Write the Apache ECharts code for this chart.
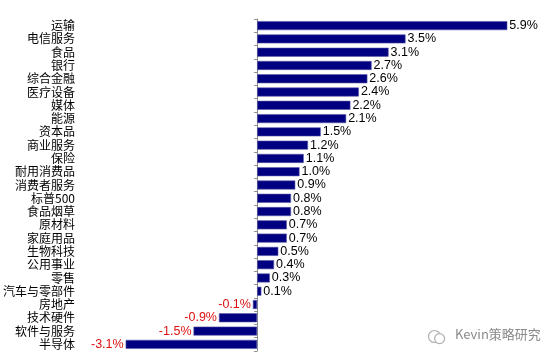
<!DOCTYPE html>
<html>
<head>
<meta charset="utf-8">
<script src="https://cdn.jsdelivr.net/npm/echarts@6/dist/echarts.min.js"></script>
<style>
  html, body { margin: 0; padding: 0; background: #fff; }
  #chart { width: 560px; height: 364px; }
</style>
</head>
<body>
<div id="chart"></div>
<script>
// 行业涨跌幅（%），自上而下
const categories = [
  '运输', '电信服务', '食品', '银行', '综合金融', '医疗设备', '媒体', '能源',
  '资本品', '商业服务', '保险', '耐用消费品', '消费者服务', '标普500', '食品烟草',
  '原材料', '家庭用品', '生物科技', '公用事业', '零售', '汽车与零部件',
  '房地产', '技术硬件', '软件与服务', '半导体'
]
const values = [
  5.9, 3.5, 3.1, 2.7, 2.6, 2.4, 2.2, 2.1,
  1.5, 1.2, 1.1, 1.0, 0.9, 0.8, 0.8,
  0.7, 0.7, 0.5, 0.4, 0.3, 0.1,
  -0.1, -0.9, -1.5, -3.1
]

const barColor = '#000080'
const negColor = '#dd1111'

const chart = echarts.init(document.getElementById('chart'))

const seriesData = values.map(v => {
  if (v < 0) {
    return {
      value: v,
      label: { position: 'left', color: negColor }
    }
  }
  return { value: v }
})

const option = {
  backgroundColor: '#fff',
  animation: false,
  grid: {
    left: 74,
    right: 23,
    top: 19,
    bottom: 13,
    containLabel: false
  },
  xAxis: {
    type: 'value',
    min: -4.2,
    max: 6.6,
    show: false
  },
  yAxis: [
    {
      // 零轴线和刻度
      type: 'category',
      inverse: true,
      data: categories,
      axisLine: {
        onZero: true,
        lineStyle: { color: '#8c8c8c', width: 1 }
      },
      axisTick: {
        show: true,
        interval: 0,
        length: 3,
        lineStyle: { color: '#8c8c8c' }
      },
      axisLabel: { show: false }
    },
    {
      // 左侧行业名称
      type: 'category',
      inverse: true,
      position: 'left',
      data: categories,
      axisLine: { show: false, onZero: false },
      axisTick: { show: false },
      axisLabel: {
        interval: 0,
        margin: 4,
        color: '#000',
        fontSize: 12,
        fontFamily: '"Noto Sans CJK SC", sans-serif'
      }
    }
  ],
  series: [
    {
      type: 'bar',
      yAxisIndex: 0,
      barWidth: 9,
      itemStyle: {
        color: barColor,
        borderColor: '#5a5aa8',
        borderWidth: 0.6
      },
      label: {
        show: true,
        position: 'right',
        distance: 2,
        color: '#000',
        fontSize: 12.5,
        fontFamily: '"Liberation Sans", Arial, sans-serif',
        formatter: p => p.value.toFixed(1) + '%'
      },
      data: seriesData
    }
  ],
  graphic: [
    {
      type: 'circle',
      left: 426,
      top: 328,
      shape: { r: 6 },
      style: { fill: 'none', stroke: '#b0b0b0', lineWidth: 1.2 }
    },
    {
      type: 'circle',
      left: 434,
      top: 333,
      shape: { r: 5 },
      style: { fill: '#fff', stroke: '#b0b0b0', lineWidth: 1.2 }
    },
    {
      type: 'text',
      left: 455,
      top: 328,
      style: {
        text: 'Kevin策略研究',
        fill: '#8a8a8a',
        fontSize: 13,
        fontFamily: '"Noto Sans CJK SC", sans-serif'
      }
    }
  ]
}

chart.setOption(option)
</script>
</body>
</html>
